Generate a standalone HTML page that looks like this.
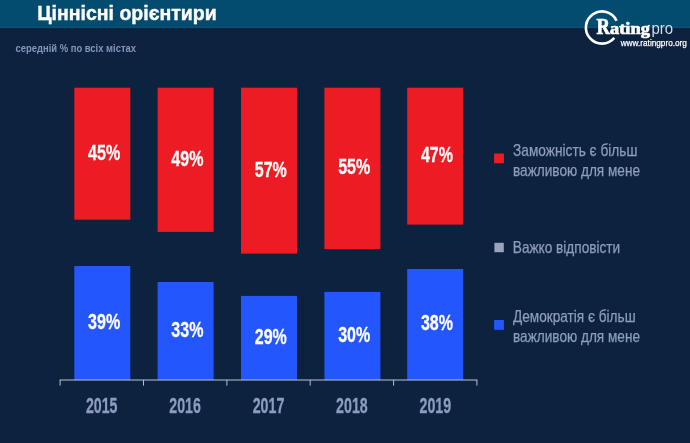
<!DOCTYPE html>
<html lang="uk">
<head>
<meta charset="utf-8">
<title>Ціннісні орієнтири</title>
<style>
html,body{margin:0;padding:0;background:#0d223f;}
body{width:690px;height:443px;overflow:hidden;}
svg{display:block;}
text{font-family:"Liberation Sans",sans-serif;}
.b{font-weight:bold;}
.val{font-weight:bold;font-size:22.8px;fill:#fff;stroke:#fff;stroke-width:0.3px;text-anchor:middle;}
.yr{font-weight:bold;font-size:21.8px;fill:#8d9dc0;stroke:#8d9dc0;stroke-width:0.3px;text-anchor:middle;}
.lg{font-size:16.1px;fill:#8e9dbd;stroke:#8e9dbd;stroke-width:0.25px;}
</style>
</head>
<body>
<svg width="690" height="443" viewBox="0 0 690 443">
  <rect x="0" y="0" width="690" height="443" fill="#0d223f"/>
  <defs>
    <linearGradient id="hb" x1="0" y1="0" x2="0" y2="1">
      <stop offset="0" stop-color="#034c6f"/>
      <stop offset="0.25" stop-color="#0a4f73"/>
      <stop offset="0.40" stop-color="#0a4f73"/>
      <stop offset="0.56" stop-color="#091e3c"/>
      <stop offset="0.78" stop-color="#0a1f3c"/>
      <stop offset="1" stop-color="#0d223f"/>
    </linearGradient>
  </defs>
  <rect x="0" y="0" width="690" height="25.5" fill="#034c6f"/>
  <rect x="0" y="25.3" width="690" height="6" fill="url(#hb)"/>

  <text class="b" x="37.2" y="19.7" font-size="19.8" fill="#fff" stroke="#fff" stroke-width="0.4" textLength="179.6" lengthAdjust="spacingAndGlyphs">Ціннісні орієнтири</text>
  <text class="b" x="15.6" y="52.4" font-size="10.5" fill="#8596ba" textLength="120.4" lengthAdjust="spacingAndGlyphs">середній % по всіх містах</text>

  <!-- logo -->
  <g id="logo">
    <path d="M 616.6 20.7 A 16.1 16.1 0 1 0 614.3 37.9" fill="none" stroke="#fff" stroke-width="2.6"/>
    <text y="34.2" style="font-family:'Liberation Serif',serif;font-weight:bold" fill="#fff" stroke="#fff" stroke-width="0.7"><tspan x="596.6" font-size="23" textLength="13.4" lengthAdjust="spacingAndGlyphs">R</tspan><tspan x="610" font-size="17.5" textLength="40" lengthAdjust="spacingAndGlyphs">ating</tspan></text>
    <text x="651.4" y="34.2" font-size="16.5" fill="#d3deea" textLength="21.6" lengthAdjust="spacingAndGlyphs">pro</text>
    <text x="620.7" y="46.2" font-size="9.3" fill="#fff" stroke="#fff" stroke-width="0.25" textLength="66.2" lengthAdjust="spacingAndGlyphs">www.ratingpro.org</text>
  </g>

  <!-- red bars -->
  <g fill="#ed1c24">
    <rect x="74.3" y="87.7" width="56" height="132.0"/>
    <rect x="157.6" y="87.7" width="56" height="144.2"/>
    <rect x="241" y="87.7" width="56" height="165.9"/>
    <rect x="324.4" y="87.7" width="56" height="161.4"/>
    <rect x="407.2" y="87.7" width="56" height="136.9"/>
  </g>
  <!-- blue bars -->
  <g fill="#2456fd">
    <rect x="74.3" y="266" width="56" height="114.0"/>
    <rect x="157.6" y="282" width="56" height="98.0"/>
    <rect x="241" y="295.9" width="56" height="84.1"/>
    <rect x="324.4" y="291.9" width="56" height="88.1"/>
    <rect x="407.2" y="269" width="56" height="111.0"/>
  </g>

  <!-- axis -->
  <g stroke="#b9c3d4" fill="none">
    <path d="M59.6 380 H477.4" stroke-width="1.1"/>
    <path d="M60.1 380 V385.6 M143.5 380 V385.6 M226.9 380 V385.6 M310.2 380 V385.6 M393.6 380 V385.6 M476.9 380 V385.6" stroke-width="1"/>
  </g>

  <!-- values -->
  <g class="val">
    <text x="104.1" y="159.5" textLength="32.1" lengthAdjust="spacingAndGlyphs">45%</text>
    <text x="187.4" y="165.6" textLength="32.1" lengthAdjust="spacingAndGlyphs">49%</text>
    <text x="270.8" y="176.5" textLength="32.1" lengthAdjust="spacingAndGlyphs">57%</text>
    <text x="354.2" y="174.2" textLength="32.1" lengthAdjust="spacingAndGlyphs">55%</text>
    <text x="437.0" y="162.0" textLength="32.1" lengthAdjust="spacingAndGlyphs">47%</text>
    <text x="104.1" y="328.8" textLength="32.1" lengthAdjust="spacingAndGlyphs">39%</text>
    <text x="187.4" y="336.8" textLength="32.1" lengthAdjust="spacingAndGlyphs">33%</text>
    <text x="270.8" y="343.8" textLength="32.1" lengthAdjust="spacingAndGlyphs">29%</text>
    <text x="354.2" y="341.8" textLength="32.1" lengthAdjust="spacingAndGlyphs">30%</text>
    <text x="437.0" y="330.3" textLength="32.1" lengthAdjust="spacingAndGlyphs">38%</text>
  </g>

  <!-- years -->
  <g class="yr">
    <text x="101.7" y="413.2" textLength="31.6" lengthAdjust="spacingAndGlyphs">2015</text>
    <text x="185.1" y="413.2" textLength="31.6" lengthAdjust="spacingAndGlyphs">2016</text>
    <text x="268.5" y="413.2" textLength="31.6" lengthAdjust="spacingAndGlyphs">2017</text>
    <text x="351.9" y="413.2" textLength="31.6" lengthAdjust="spacingAndGlyphs">2018</text>
    <text x="435.3" y="413.2" textLength="31.6" lengthAdjust="spacingAndGlyphs">2019</text>
  </g>

  <!-- legend -->
  <rect x="494.1" y="153.5" width="9.8" height="9.8" fill="#ed1c24"/>
  <text class="lg" x="513" y="156" textLength="124.4" lengthAdjust="spacingAndGlyphs">Заможність є більш</text>
  <text class="lg" x="513" y="175.5" textLength="127" lengthAdjust="spacingAndGlyphs">важливою для мене</text>

  <rect x="494.4" y="242.8" width="9.4" height="9.4" fill="#9aa4be"/>
  <text class="lg" x="512.8" y="253.4" textLength="107.4" lengthAdjust="spacingAndGlyphs">Важко відповісти</text>

  <rect x="494.1" y="320" width="9.8" height="9.8" fill="#2456fd"/>
  <text class="lg" x="513" y="322" textLength="122.6" lengthAdjust="spacingAndGlyphs">Демократія є більш</text>
  <text class="lg" x="513" y="342.1" textLength="127" lengthAdjust="spacingAndGlyphs">важливою для мене</text>
</svg>
</body>
</html>
